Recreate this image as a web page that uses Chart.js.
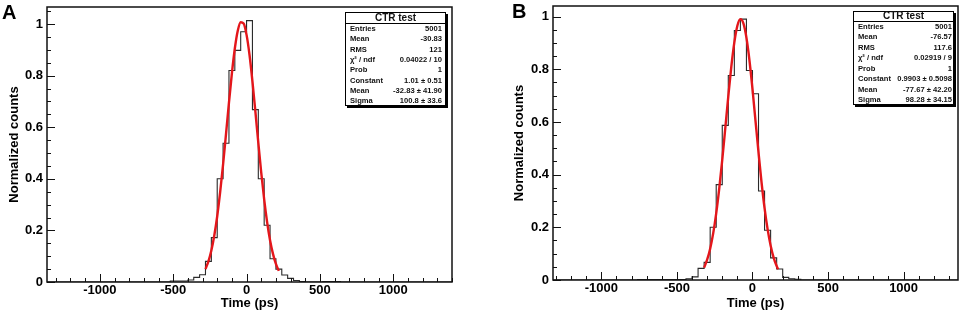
<!DOCTYPE html>
<html>
<head>
<meta charset="utf-8">
<script src="https://cdn.jsdelivr.net/npm/chart.js@4.4.0/dist/chart.umd.min.js"></script>
<style>
  html, body { margin: 0; padding: 0; background: #fff; }
  #wrap { position: relative; width: 962px; height: 314px; }
  .panel { position: absolute; top: 0; height: 314px; }
</style>
</head>
<body>
<div id="wrap">
  <div class="panel" style="left:0;width:480px"><canvas id="chartA" width="480" height="314"></canvas></div>
  <div class="panel" style="left:480px;width:482px"><canvas id="chartB" width="482" height="314"></canvas></div>
</div>
<script>
// histogram bin edges (ps) and normalized counts
var edgesA = [-1360, -520, -400, -360, -320, -280, -240, -200, -160, -120, -80, -40, 0, 40, 80, 120, 160, 200, 240, 280, 320, 360, 400, 520, 640, 1400];
var countsA = [0, 0.004, 0.008, 0.018, 0.028, 0.08, 0.172, 0.40, 0.538, 0.82, 0.898, 0.97, 1.013, 0.668, 0.40, 0.22, 0.09, 0.05, 0.027, 0.014, 0.006, 0.002, 0, 0.002, 0];

var edgesB = [-1320, -760, -440, -400, -360, -320, -280, -240, -200, -160, -120, -80, -40, 0, 40, 80, 120, 160, 200, 240, 280, 320, 1360];
var countsB = [0, 0.002, 0.005, 0.012, 0.044, 0.067, 0.20, 0.362, 0.587, 0.776, 0.947, 0.99, 0.795, 0.707, 0.338, 0.189, 0.084, 0.042, 0.01, 0.005, 0.003, 0];

// gaussian fit curves (red), sampled off the plots
var fitXA = [-280, -260, -240, -220, -200, -180, -160, -140, -120, -100, -80, -60, -40, -20, 0, 20, 40, 60, 80, 100, 120, 140, 160, 180, 200, 220];
var fitYA = [0.050, 0.080, 0.122, 0.180, 0.255, 0.348, 0.456, 0.574, 0.695, 0.809, 0.905, 0.974, 1.007, 1.002, 0.958, 0.881, 0.778, 0.661, 0.540, 0.424, 0.320, 0.232, 0.162, 0.109, 0.070, 0.043];
var fitXB = [-320, -300, -280, -260, -240, -220, -200, -180, -160, -140, -120, -100, -80, -60, -40, -20, 0, 20, 40, 60, 80, 100, 120, 140, 160, 170];
var fitYB = [0.047, 0.077, 0.119, 0.177, 0.253, 0.347, 0.456, 0.576, 0.697, 0.810, 0.902, 0.965, 0.990, 0.974, 0.920, 0.834, 0.725, 0.604, 0.484, 0.371, 0.273, 0.193, 0.131, 0.085, 0.053, 0.041];

// axis ticks
var xTickVals = [-1000, -500, 0, 500, 1000];
var yTickVals = [0, 0.2, 0.4, 0.6, 0.8, 1];
var yTickLabels = ['0', '0.2', '0.4', '0.6', '0.8', '1'];

// stats boxes
var statLabels = ['Entries', 'Mean', 'RMS', 'χ² / ndf', 'Prob', 'Constant', 'Mean', 'Sigma'];
var statValuesA = ['5001', '-30.83', '121', '0.04022 / 10', '1', '1.01 ± 0.51', '-32.83 ± 41.90', '100.8 ± 33.6'];
var statValuesB = ['5001', '-76.57', '117.6', '0.02919 / 9', '1', '0.9903 ± 0.5098', '-77.67 ± 42.20', '98.28 ± 34.15'];

var FONT = '"Liberation Sans", Arial, Helvetica, sans-serif';

function histPoints(edges, counts) {
  return edges.map(function (e, i) {
    return { x: e, y: counts[Math.min(i, counts.length - 1)] };
  });
}

function fitPoints(xs, ys) {
  return xs.map(function (x, i) { return { x: x, y: ys[i] }; });
}

// ROOT-like frame: box, inward ticks, stats box, panel letter
var rootFrame = {
  id: 'rootFrame',
  afterDraw: function (chart, args, o) {
    var ctx = chart.ctx, a = chart.chartArea;
    var xs = chart.scales.x, ys = chart.scales.y;
    ctx.save();
    ctx.strokeStyle = '#111';
    ctx.lineWidth = 1;
    ctx.beginPath();
    for (var v = Math.ceil(xs.min / 100) * 100; v <= xs.max; v += 100) {
      var px = Math.round(xs.getPixelForValue(v)) + 0.5;
      var len = (v % 500 === 0) ? 8 : 4;
      ctx.moveTo(px, a.bottom);
      ctx.lineTo(px, a.bottom - len);
    }
    for (var k = 0; k * 0.05 <= ys.max; k++) {
      var py = Math.round(ys.getPixelForValue(k * 0.05)) + 0.5;
      var l2 = (k % 4 === 0) ? 8 : 4;
      ctx.moveTo(a.left, py);
      ctx.lineTo(a.left + l2, py);
    }
    ctx.stroke();
    ctx.lineWidth = 1.5;
    ctx.strokeRect(a.left, a.top, a.right - a.left, a.bottom - a.top);

    // stats box
    var b = o.box;
    ctx.fillStyle = '#000';
    ctx.fillRect(b.x + 2, b.y + 2, b.w, b.h);
    ctx.fillStyle = '#fff';
    ctx.fillRect(b.x, b.y, b.w, b.h);
    ctx.lineWidth = 1;
    ctx.strokeStyle = '#000';
    ctx.strokeRect(b.x + 0.5, b.y + 0.5, b.w - 1, b.h - 1);
    ctx.beginPath();
    ctx.moveTo(b.x, b.y + b.titleH + 0.5);
    ctx.lineTo(b.x + b.w, b.y + b.titleH + 0.5);
    ctx.stroke();
    ctx.fillStyle = '#111';
    ctx.textBaseline = 'middle';
    ctx.textAlign = 'center';
    ctx.font = 'bold 10px ' + FONT;
    ctx.fillText('CTR test', b.x + b.w / 2, b.y + b.titleH / 2 + 0.5);
    var rowH = (b.h - b.titleH) / statLabels.length;
    ctx.font = 'bold 7.6px ' + FONT;
    for (var i = 0; i < statLabels.length; i++) {
      var cy = b.y + b.titleH + rowH * (i + 0.5) + 0.5;
      ctx.textAlign = 'left';
      ctx.fillText(statLabels[i], b.x + 5, cy);
      ctx.textAlign = 'right';
      ctx.fillText(o.values[i], b.x + b.w - b.padR, cy);
    }

    // panel letter
    ctx.fillStyle = '#000';
    ctx.textAlign = 'left';
    ctx.textBaseline = 'alphabetic';
    ctx.font = 'bold 20px ' + FONT;
    ctx.fillText(o.letter.text, o.letter.x, o.letter.y);
    ctx.restore();
  }
};

function makeChart(id, cfg) {
  return new Chart(document.getElementById(id), {
    type: 'line',
    data: {
      datasets: [{
        label: 'fit',
        data: fitPoints(cfg.fitX, cfg.fitY),
        borderColor: '#e4161b',
        borderWidth: 2.4,
        pointRadius: 0,
        cubicInterpolationMode: 'monotone',
        fill: false
      }, {
        label: 'hist',
        data: histPoints(cfg.edges, cfg.counts),
        borderColor: '#2a2a2a',
        borderWidth: 1.1,
        pointRadius: 0,
        stepped: 'before',
        fill: false
      }]
    },
    options: {
      responsive: false,
      animation: false,
      devicePixelRatio: 1,
      layout: { padding: cfg.padding },
      plugins: {
        legend: { display: false },
        tooltip: { enabled: false },
        rootFrame: { box: cfg.box, values: cfg.values, letter: cfg.letter }
      },
      scales: {
        x: {
          type: 'linear',
          min: cfg.xMin,
          max: cfg.xMax,
          grid: { display: false, drawTicks: false },
          border: { display: false },
          afterBuildTicks: function (s) {
            s.ticks = xTickVals.map(function (v) { return { value: v }; });
          },
          afterFit: function (s) {
            s.height = cfg.xAxisH;
            s.paddingLeft = s.paddingRight = s.paddingTop = s.paddingBottom = 0;
          },
          ticks: {
            color: '#000',
            padding: 1,
            maxRotation: 0,
            font: { family: FONT, size: 13, weight: 'bold' },
            callback: function (v) { return String(v); }
          },
          title: {
            display: true,
            text: 'Time (ps)',
            color: '#000',
            padding: { top: 0, bottom: 3 },
            font: { family: FONT, size: 13, weight: 'bold' }
          }
        },
        y: {
          type: 'linear',
          min: 0,
          max: cfg.yMax,
          grid: { display: false, drawTicks: false },
          border: { display: false },
          afterBuildTicks: function (s) {
            s.ticks = yTickVals.map(function (v) { return { value: v }; });
          },
          afterFit: function (s) {
            s.width = cfg.yAxisW;
            s.paddingLeft = s.paddingRight = s.paddingTop = s.paddingBottom = 0;
          },
          ticks: {
            color: '#000',
            padding: 4,
            font: { family: FONT, size: 13, weight: 'bold' },
            callback: function (v, i) { return yTickLabels[i]; }
          },
          title: {
            display: true,
            text: 'Normalized counts',
            color: '#000',
            padding: { top: cfg.yTitlePad, bottom: 0 },
            font: { family: FONT, size: 13, weight: 'bold' }
          }
        }
      }
    },
    plugins: [rootFrame]
  });
}

makeChart('chartA', {
  edges: edgesA, counts: countsA, fitX: fitXA, fitY: fitYA,
  xMin: -1360, xMax: 1400, yMax: 1.066,
  padding: { left: 0, right: 28, top: 7, bottom: 0 },
  yAxisW: 47, xAxisH: 32, yTitlePad: 6.2,
  box: { x: 345, y: 12, w: 101, h: 94, titleH: 11, padR: 4 },
  values: statValuesA,
  letter: { text: 'A', x: 2, y: 19 }
});

makeChart('chartB', {
  edges: edgesB, counts: countsB, fitX: fitXB, fitY: fitYB,
  xMin: -1320, xMax: 1360, yMax: 1.04,
  padding: { left: 0, right: 4, top: 6, bottom: 0 },
  yAxisW: 73, xAxisH: 34, yTitlePad: 32,
  box: { x: 373, y: 11, w: 101, h: 94, titleH: 10, padR: 2 },
  values: statValuesB,
  letter: { text: 'B', x: 32, y: 18 }
});
</script>
</body>
</html>
